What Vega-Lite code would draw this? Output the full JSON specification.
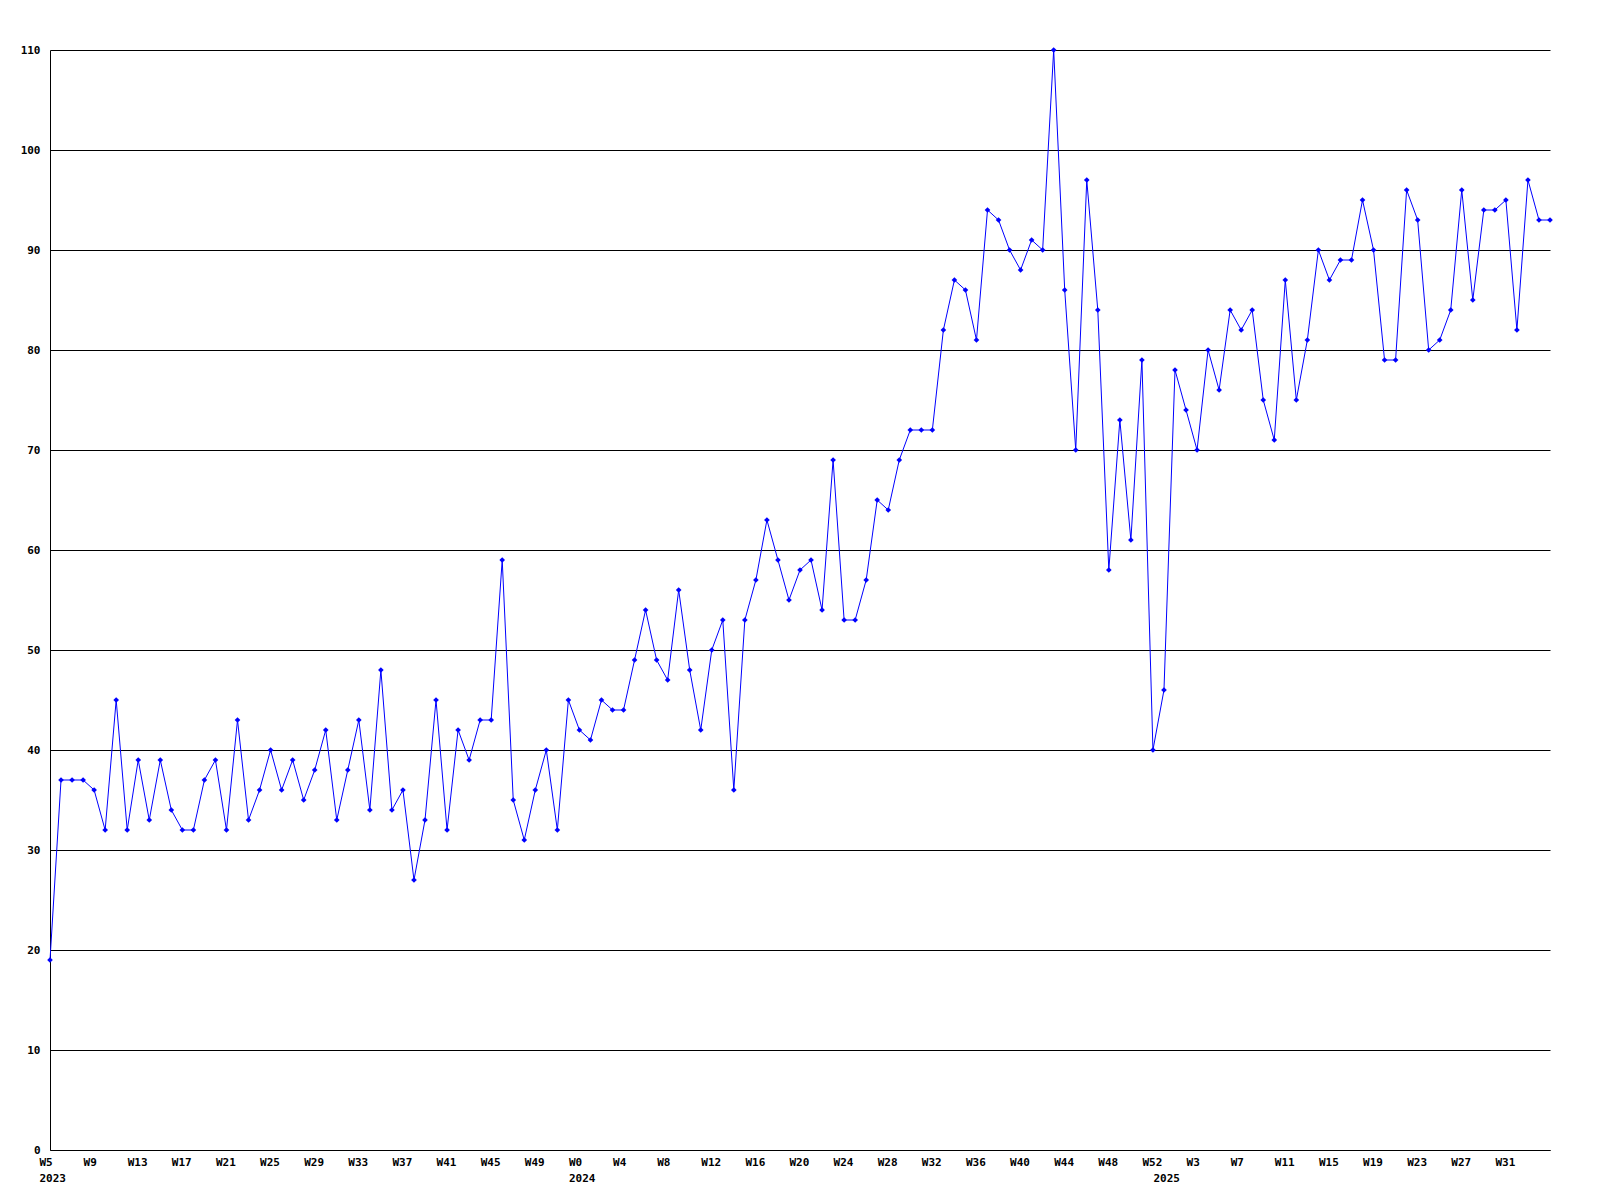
{
  "$schema": "https://vega.github.io/schema/vega-lite/v6.json",
  "width": 1500,
  "height": 1100,
  "autosize": {"type": "none"},
  "padding": {"left": 50, "top": 50, "right": 50, "bottom": 50},
  "background": "white",
  "config": {
    "view": {"stroke": null},
    "axis": {
      "labelFont": "DejaVu Sans Mono",
      "labelFontWeight": "bold",
      "labelFontSize": 11,
      "labelColor": "black",
      "domainColor": "black",
      "domainWidth": 1,
      "ticks": false,
      "tickSize": 0,
      "title": null
    }
  },
  "data": {
    "values": [
      {"k": "2023-W5", "v": 19}, {"k": "2023-W6", "v": 37}, {"k": "2023-W7", "v": 37}, {"k": "2023-W8", "v": 37},
      {"k": "2023-W9", "v": 36}, {"k": "2023-W10", "v": 32}, {"k": "2023-W11", "v": 45}, {"k": "2023-W12", "v": 32},
      {"k": "2023-W13", "v": 39}, {"k": "2023-W14", "v": 33}, {"k": "2023-W15", "v": 39}, {"k": "2023-W16", "v": 34},
      {"k": "2023-W17", "v": 32}, {"k": "2023-W18", "v": 32}, {"k": "2023-W19", "v": 37}, {"k": "2023-W20", "v": 39},
      {"k": "2023-W21", "v": 32}, {"k": "2023-W22", "v": 43}, {"k": "2023-W23", "v": 33}, {"k": "2023-W24", "v": 36},
      {"k": "2023-W25", "v": 40}, {"k": "2023-W26", "v": 36}, {"k": "2023-W27", "v": 39}, {"k": "2023-W28", "v": 35},
      {"k": "2023-W29", "v": 38}, {"k": "2023-W30", "v": 42}, {"k": "2023-W31", "v": 33}, {"k": "2023-W32", "v": 38},
      {"k": "2023-W33", "v": 43}, {"k": "2023-W34", "v": 34}, {"k": "2023-W35", "v": 48}, {"k": "2023-W36", "v": 34},
      {"k": "2023-W37", "v": 36}, {"k": "2023-W38", "v": 27}, {"k": "2023-W39", "v": 33}, {"k": "2023-W40", "v": 45},
      {"k": "2023-W41", "v": 32}, {"k": "2023-W42", "v": 42}, {"k": "2023-W43", "v": 39}, {"k": "2023-W44", "v": 43},
      {"k": "2023-W45", "v": 43}, {"k": "2023-W46", "v": 59}, {"k": "2023-W47", "v": 35}, {"k": "2023-W48", "v": 31},
      {"k": "2023-W49", "v": 36}, {"k": "2023-W50", "v": 40}, {"k": "2023-W51", "v": 32}, {"k": "2023-W52", "v": 45},
      {"k": "2024-W0", "v": 42}, {"k": "2024-W1", "v": 41}, {"k": "2024-W2", "v": 45}, {"k": "2024-W3", "v": 44},
      {"k": "2024-W4", "v": 44}, {"k": "2024-W5", "v": 49}, {"k": "2024-W6", "v": 54}, {"k": "2024-W7", "v": 49},
      {"k": "2024-W8", "v": 47}, {"k": "2024-W9", "v": 56}, {"k": "2024-W10", "v": 48}, {"k": "2024-W11", "v": 42},
      {"k": "2024-W12", "v": 50}, {"k": "2024-W13", "v": 53}, {"k": "2024-W14", "v": 36}, {"k": "2024-W15", "v": 53},
      {"k": "2024-W16", "v": 57}, {"k": "2024-W17", "v": 63}, {"k": "2024-W18", "v": 59}, {"k": "2024-W19", "v": 55},
      {"k": "2024-W20", "v": 58}, {"k": "2024-W21", "v": 59}, {"k": "2024-W22", "v": 54}, {"k": "2024-W23", "v": 69},
      {"k": "2024-W24", "v": 53}, {"k": "2024-W25", "v": 53}, {"k": "2024-W26", "v": 57}, {"k": "2024-W27", "v": 65},
      {"k": "2024-W28", "v": 64}, {"k": "2024-W29", "v": 69}, {"k": "2024-W30", "v": 72}, {"k": "2024-W31", "v": 72},
      {"k": "2024-W32", "v": 72}, {"k": "2024-W33", "v": 82}, {"k": "2024-W34", "v": 87}, {"k": "2024-W35", "v": 86},
      {"k": "2024-W36", "v": 81}, {"k": "2024-W37", "v": 94}, {"k": "2024-W38", "v": 93}, {"k": "2024-W39", "v": 90},
      {"k": "2024-W40", "v": 88}, {"k": "2024-W41", "v": 91}, {"k": "2024-W42", "v": 90}, {"k": "2024-W43", "v": 110},
      {"k": "2024-W44", "v": 86}, {"k": "2024-W45", "v": 70}, {"k": "2024-W46", "v": 97}, {"k": "2024-W47", "v": 84},
      {"k": "2024-W48", "v": 58}, {"k": "2024-W49", "v": 73}, {"k": "2024-W50", "v": 61}, {"k": "2024-W51", "v": 79},
      {"k": "2024-W52", "v": 40},
      {"k": "2025-W0", "v": 46}, {"k": "2025-W1", "v": 78}, {"k": "2025-W2", "v": 74}, {"k": "2025-W3", "v": 70},
      {"k": "2025-W4", "v": 80}, {"k": "2025-W5", "v": 76}, {"k": "2025-W6", "v": 84}, {"k": "2025-W7", "v": 82},
      {"k": "2025-W8", "v": 84}, {"k": "2025-W9", "v": 75}, {"k": "2025-W10", "v": 71}, {"k": "2025-W11", "v": 87},
      {"k": "2025-W12", "v": 75}, {"k": "2025-W13", "v": 81}, {"k": "2025-W14", "v": 90}, {"k": "2025-W15", "v": 87},
      {"k": "2025-W16", "v": 89}, {"k": "2025-W17", "v": 89}, {"k": "2025-W18", "v": 95}, {"k": "2025-W19", "v": 90},
      {"k": "2025-W20", "v": 79}, {"k": "2025-W21", "v": 79}, {"k": "2025-W22", "v": 96}, {"k": "2025-W23", "v": 93},
      {"k": "2025-W24", "v": 80}, {"k": "2025-W25", "v": 81}, {"k": "2025-W26", "v": 84}, {"k": "2025-W27", "v": 96},
      {"k": "2025-W28", "v": 85}, {"k": "2025-W29", "v": 94}, {"k": "2025-W30", "v": 94}, {"k": "2025-W31", "v": 95},
      {"k": "2025-W32", "v": 82}, {"k": "2025-W33", "v": 97}, {"k": "2025-W34", "v": 93}, {"k": "2025-W35", "v": 93}
    ]
  },
  "mark": {
    "type": "line",
    "color": "#0000FF",
    "strokeWidth": 1,
    "point": {"shape": "diamond", "filled": true, "size": 32, "color": "#0000FF"}
  },
  "encoding": {
    "x": {
      "field": "k",
      "type": "ordinal",
      "sort": null,
      "scale": {"type": "point", "padding": 0},
      "axis": {
        "grid": false,
        "labelAngle": 0,
        "labelAlign": "left",
        "labelBaseline": "top",
        "labelOffset": -11,
        "labelPadding": 6,
        "labelLineHeight": 16,
        "labelOverlap": false,
        "labelBound": false,
        "labelFlush": false,
        "values": ["2023-W5", "2023-W9", "2023-W13", "2023-W17", "2023-W21", "2023-W25", "2023-W29", "2023-W33", "2023-W37", "2023-W41", "2023-W45", "2023-W49",
                   "2024-W0", "2024-W4", "2024-W8", "2024-W12", "2024-W16", "2024-W20", "2024-W24", "2024-W28", "2024-W32", "2024-W36", "2024-W40", "2024-W44", "2024-W48", "2024-W52",
                   "2025-W0", "2025-W3", "2025-W7", "2025-W11", "2025-W15", "2025-W19", "2025-W23", "2025-W27", "2025-W31"],
        "labelExpr": "datum.value == '2025-W0' ? ['', '2025'] : (datum.value == '2023-W5' || datum.value == '2024-W0') ? [split(datum.value, '-')[1], split(datum.value, '-')[0]] : split(datum.value, '-')[1]"
      }
    },
    "y": {
      "field": "v",
      "type": "quantitative",
      "scale": {"domain": [0, 110], "nice": false, "zero": true},
      "axis": {
        "values": [0, 10, 20, 30, 40, 50, 60, 70, 80, 90, 100, 110],
        "grid": true,
        "gridColor": "black",
        "gridOpacity": 1,
        "gridWidth": 1,
        "labelPadding": 10,
        "labelAlign": "right",
        "labelBaseline": "middle"
      }
    }
  }
}
